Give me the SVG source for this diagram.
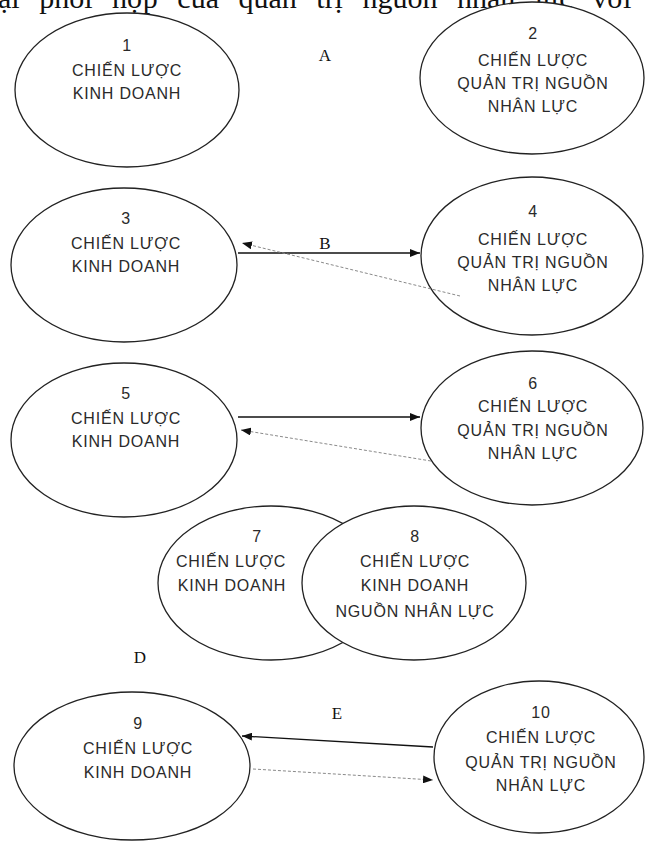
<svg xmlns="http://www.w3.org/2000/svg" width="646" height="842" viewBox="0 0 646 842">
  <style>
    .node ellipse { fill: #ffffff; stroke: #222222; stroke-width: 1.3; }
    .lbl { font-family: "Liberation Sans", Arial, sans-serif; font-size: 16px; letter-spacing: 0.8px; fill: #2a2a2a; text-anchor: middle; }
    .tag { font-family: "Liberation Serif", "Times New Roman", serif; font-size: 17px; fill: #111111; text-anchor: middle; }
    .head { font-family: "Liberation Serif", "Times New Roman", serif; font-size: 30px; fill: #111111; word-spacing: 12px; }
    .solid { stroke: #111111; stroke-width: 1.3; fill: none; }
    .dash { stroke: #8a8a8a; stroke-width: 1; stroke-dasharray: 3 2; fill: none; }
  </style>
  <defs>
    <marker id="ah" viewBox="0 0 10 8" refX="10" refY="4" markerWidth="10" markerHeight="8" markerUnits="userSpaceOnUse" orient="auto">
      <path d="M0,0 L10,4 L0,8 z" fill="#111111"/>
    </marker>
  </defs>

  <rect x="0" y="0" width="646" height="842" fill="#ffffff"/>

  <text class="head" x="-2" y="8">ại phối hợp của quản trị nguồn nhân lực với</text>

  <g id="node1" class="node">
    <ellipse cx="127" cy="90" rx="112" ry="77"/>
    <text class="lbl" x="127" y="51">1</text>
    <text class="lbl" x="127" y="76">CHIẾN LƯỢC</text>
    <text class="lbl" x="127" y="99">KINH DOANH</text>
  </g>
  <g id="node2" class="node">
    <ellipse cx="532" cy="78" rx="112" ry="76"/>
    <text class="lbl" x="533" y="39">2</text>
    <text class="lbl" x="533" y="66">CHIẾN LƯỢC</text>
    <text class="lbl" x="533" y="89">QUẢN TRỊ NGUỒN</text>
    <text class="lbl" x="533" y="112">NHÂN LỰC</text>
  </g>
  <text id="labelA" class="tag" x="325" y="61">A</text>

  <g id="node3" class="node">
    <ellipse cx="124" cy="265" rx="113" ry="77"/>
    <text class="lbl" x="126" y="224">3</text>
    <text class="lbl" x="126" y="249">CHIẾN LƯỢC</text>
    <text class="lbl" x="126" y="272">KINH DOANH</text>
  </g>
  <g id="node4" class="node">
    <ellipse cx="532" cy="256" rx="111" ry="79"/>
    <text class="lbl" x="533" y="217">4</text>
    <text class="lbl" x="533" y="245">CHIẾN LƯỢC</text>
    <text class="lbl" x="533" y="268">QUẢN TRỊ NGUỒN</text>
    <text class="lbl" x="533" y="291">NHÂN LỰC</text>
  </g>

  <g id="node5" class="node">
    <ellipse cx="124" cy="440" rx="113" ry="77"/>
    <text class="lbl" x="126" y="399">5</text>
    <text class="lbl" x="126" y="424">CHIẾN LƯỢC</text>
    <text class="lbl" x="126" y="447">KINH DOANH</text>
  </g>
  <g id="node6" class="node">
    <ellipse cx="532" cy="428" rx="111" ry="77"/>
    <text class="lbl" x="533" y="389">6</text>
    <text class="lbl" x="533" y="412">CHIẾN LƯỢC</text>
    <text class="lbl" x="533" y="436">QUẢN TRỊ NGUỒN</text>
    <text class="lbl" x="533" y="459">NHÂN LỰC</text>
  </g>

  <g id="node7" class="node">
    <ellipse cx="271" cy="583" rx="113" ry="77"/>
    <text class="lbl" x="257" y="542">7</text>
    <text class="lbl" x="231" y="567">CHIẾN LƯỢC</text>
    <text class="lbl" x="232" y="591">KINH DOANH</text>
  </g>
  <g id="node8" class="node">
    <ellipse cx="414" cy="583" rx="112" ry="77"/>
    <text class="lbl" x="415" y="542">8</text>
    <text class="lbl" x="415" y="567">CHIẾN LƯỢC</text>
    <text class="lbl" x="415" y="591">KINH DOANH</text>
    <text class="lbl" x="415" y="617">NGUỒN NHÂN LỰC</text>
  </g>
  <text id="labelD" class="tag" x="140" y="663">D</text>

  <g id="node9" class="node">
    <ellipse cx="132" cy="766" rx="118" ry="74"/>
    <text class="lbl" x="138" y="729">9</text>
    <text class="lbl" x="138" y="754">CHIẾN LƯỢC</text>
    <text class="lbl" x="138" y="778">KINH DOANH</text>
  </g>
  <g id="node10" class="node">
    <ellipse cx="539" cy="757" rx="105" ry="76"/>
    <text class="lbl" x="541" y="718">10</text>
    <text class="lbl" x="541" y="743">CHIẾN LƯỢC</text>
    <text class="lbl" x="541" y="768">QUẢN TRỊ NGUỒN</text>
    <text class="lbl" x="541" y="791">NHÂN LỰC</text>
  </g>

  <g id="connectors">
    <line class="solid" x1="238" y1="253" x2="420" y2="253" marker-end="url(#ah)"/>
    <line class="dash" x1="460" y1="296" x2="242" y2="243" marker-end="url(#ah)"/>
    <text id="labelB" class="tag" x="325" y="249">B</text>

    <line class="solid" x1="238" y1="417" x2="420" y2="417" marker-end="url(#ah)"/>
    <line class="dash" x1="431" y1="461" x2="241" y2="430" marker-end="url(#ah)"/>

    <line class="solid" x1="433" y1="747" x2="242" y2="736" marker-end="url(#ah)"/>
    <line class="dash" x1="253" y1="769" x2="433" y2="780" marker-end="url(#ah)"/>
    <text id="labelE" class="tag" x="337" y="719">E</text>
  </g>
</svg>
